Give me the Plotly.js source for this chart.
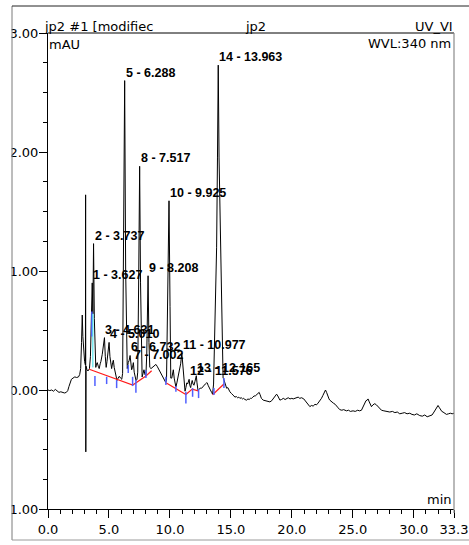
<!DOCTYPE html>
<html>
<head>
<meta charset="utf-8">
<script src="https://cdn.plot.ly/plotly-3.0.1.min.js"></script>
<style>
  html, body { margin: 0; padding: 0; background: #ffffff; }
  #chart { width: 469px; height: 545px; }
</style>
</head>
<body>
<div id="chart"></div>
<script>
// UV trace: retention time (min) and detector signal (mAU)
const timeMin = [
  0.00, 0.15, 0.30, 0.45, 0.60, 0.75, 0.90, 1.05, 1.20, 1.35, 1.50, 1.62, 1.72, 1.82, 1.92,
  2.05, 2.20, 2.35, 2.50, 2.60, 2.68, 2.75, 2.81, 2.86, 2.92, 3.00, 3.07, 3.085, 3.10, 3.12,
  3.20, 3.28, 3.34, 3.40, 3.48, 3.56, 3.627, 3.68, 3.737, 3.80, 3.86, 3.92, 3.98, 4.04, 4.12,
  4.20, 4.28, 4.34, 4.45, 4.55, 4.631, 4.70, 4.77, 4.84, 4.93, 5.010, 5.08, 5.15, 5.22, 5.30,
  5.36, 5.43, 5.50, 5.58, 5.66, 5.75, 5.85, 5.95, 6.05, 6.12, 6.20, 6.288, 6.37, 6.44, 6.50,
  6.58, 6.66, 6.732, 6.80, 6.86, 6.93, 7.002, 7.07, 7.14, 7.22, 7.30, 7.36, 7.44, 7.517, 7.59,
  7.65, 7.72, 7.80, 7.87, 7.95, 8.03, 8.10, 8.208, 8.28, 8.35, 8.45, 8.55, 8.65, 8.75, 8.85,
  8.95, 9.05, 9.15, 9.25, 9.35, 9.45, 9.55, 9.65, 9.72, 9.82, 9.925, 10.01, 10.07, 10.15, 10.22,
  10.28, 10.35, 10.42, 10.49, 10.57, 10.65, 10.72, 10.80, 10.88, 10.977, 11.05, 11.12, 11.18, 11.24, 11.31,
  11.38, 11.45, 11.52, 11.576, 11.63, 11.70, 11.77, 11.83, 11.90, 11.97, 12.05, 12.11, 12.165, 12.22, 12.30,
  12.38, 12.48, 12.60, 12.70, 12.80, 12.90, 13.00, 13.06, 13.13, 13.22, 13.32, 13.42, 13.50, 13.58, 13.68,
  13.76, 13.83, 13.90, 13.963, 14.03, 14.11, 14.18, 14.25, 14.31, 14.36, 14.40, 14.45, 14.50, 14.58, 14.65,
  14.75, 14.85, 14.92, 15.05, 15.15, 15.25, 15.33, 15.45, 15.55, 15.65, 15.74, 15.85, 15.95, 16.05, 16.15,
  16.29, 16.40, 16.50, 16.60, 16.70, 16.80, 16.90, 17.00, 17.11, 17.20, 17.32, 17.40, 17.50, 17.65, 17.80,
  17.95, 18.05, 18.20, 18.35, 18.50, 18.62, 18.75, 18.85, 18.95, 19.02, 19.15, 19.30, 19.45, 19.57, 19.70,
  19.85, 20.00, 20.11, 20.25, 20.40, 20.52, 20.65, 20.80, 20.98, 21.10, 21.25, 21.40, 21.48, 21.60, 21.75,
  21.90, 22.02, 22.15, 22.30, 22.43, 22.55, 22.65, 22.76, 22.85, 22.95, 23.05, 23.11, 23.25, 23.40, 23.55,
  23.66, 23.80, 23.93, 24.10, 24.25, 24.48, 24.65, 24.80, 25.02, 25.20, 25.40, 25.55, 25.71, 25.80, 25.90,
  25.98, 26.08, 26.18, 26.25, 26.35, 26.45, 26.53, 26.65, 26.80, 26.94, 27.10, 27.25, 27.35, 27.55, 27.75,
  28.03, 28.25, 28.45, 28.65, 28.85, 29.05, 29.25, 29.45, 29.67, 29.85, 30.05, 30.25, 30.49, 30.70, 30.90,
  31.10, 31.31, 31.50, 31.66, 31.80, 31.92, 31.99, 32.08, 32.20, 32.30, 32.40, 32.55, 32.68, 32.85, 33.00,
  33.15, 33.30
];
const signalMAU = [
  0.00, -0.005, 0.00, -0.01, 0.005, -0.01, -0.02, -0.015, -0.02, -0.025, -0.02, -0.005, 0.03, 0.07, 0.09,
  0.10, 0.11, 0.105, 0.11, 0.13, 0.18, 0.40, 0.63, 0.45, 0.30, 0.24, 0.21, 1.64, -0.52, 0.20,
  0.17, 0.16, 0.17, 0.18, 0.28, 0.55, 0.90, 0.64, 1.23, 0.60, 0.20, 0.19, 0.22, 0.23, 0.20,
  0.18, 0.22, 0.24, 0.30, 0.38, 0.44, 0.28, 0.19, 0.24, 0.32, 0.40, 0.28, 0.22, 0.18, 0.23,
  0.25, 0.19, 0.15, 0.11, 0.08, 0.10, 0.115, 0.10, 0.09, 0.14, 1.10, 2.60, 1.00, 0.25, 0.18,
  0.23, 0.25, 0.29, 0.20, 0.17, 0.19, 0.23, 0.15, 0.11, 0.08, 0.09, 0.15, 0.95, 1.88, 0.90,
  0.22, 0.11, 0.14, 0.17, 0.13, 0.12, 0.30, 0.96, 0.40, 0.19, 0.18, 0.19, 0.20, 0.21, 0.215,
  0.20, 0.18, 0.16, 0.14, 0.12, 0.10, 0.075, 0.065, 0.08, 0.75, 1.59, 0.70, 0.10, 0.10, 0.15,
  0.17, 0.10, 0.04, 0.025, 0.06, 0.10, 0.12, 0.17, 0.22, 0.31, 0.20, 0.10, 0.03, -0.01, 0.02,
  0.06, 0.05, 0.07, 0.09, 0.04, 0.02, 0.06, 0.08, 0.05, 0.04, 0.07, 0.10, 0.12, 0.06, 0.00,
  0.005, 0.015, 0.015, 0.03, 0.04, 0.05, 0.06, 0.06, 0.04, 0.015, 0.00, -0.02, -0.035, 0.05, 0.55,
  0.95, 1.20, 1.95, 2.73, 1.95, 1.45, 1.15, 0.55, 0.20, 0.10, 0.095, 0.08, 0.07, 0.03, 0.015,
  0.02, -0.005, -0.015, -0.03, -0.045, -0.05, -0.06, -0.055, -0.065, -0.06, -0.07, -0.065, -0.075, -0.07, -0.08,
  -0.085, -0.075, -0.08, -0.07, -0.07, -0.06, -0.05, -0.05, -0.04, -0.03, -0.02, -0.04, -0.07, -0.085, -0.09,
  -0.095, -0.10, -0.10, -0.09, -0.07, -0.05, -0.035, -0.05, -0.075, -0.085, -0.08, -0.07, -0.08, -0.075, -0.065,
  -0.075, -0.07, -0.075, -0.07, -0.065, -0.06, -0.07, -0.065, -0.075, -0.09, -0.115, -0.135, -0.14, -0.13, -0.135,
  -0.12, -0.125, -0.11, -0.09, -0.07, -0.045, -0.02, 0.00, -0.02, -0.055, -0.075, -0.085, -0.10, -0.11, -0.12,
  -0.13, -0.15, -0.165, -0.17, -0.165, -0.175, -0.17, -0.18, -0.175, -0.18, -0.17, -0.175, -0.17, -0.15, -0.12,
  -0.105, -0.09, -0.085, -0.075, -0.10, -0.13, -0.14, -0.125, -0.115, -0.125, -0.145, -0.16, -0.17, -0.175, -0.18,
  -0.185, -0.18, -0.19, -0.185, -0.20, -0.195, -0.19, -0.20, -0.195, -0.205, -0.21, -0.20, -0.215, -0.22, -0.21,
  -0.225, -0.22, -0.21, -0.185, -0.16, -0.135, -0.13, -0.145, -0.17, -0.18, -0.185, -0.20, -0.205, -0.20, -0.195,
  -0.20, -0.195
];

// Integrated peaks: number, retention time (min), apex height (mAU)
const peakNumbers = [1, 2, 3, 4, 5, 6, 7, 8, 9, 10, 11, 12, 13, 14];
const peakTimes   = [3.627, 3.737, 4.631, 5.010, 6.288, 6.732, 7.002, 7.517, 8.208, 9.925, 10.977, 11.576, 12.165, 13.963];
const peakHeights = [0.90, 1.23, 0.44, 0.40, 2.60, 0.29, 0.23, 1.88, 0.96, 1.59, 0.31, 0.09, 0.12, 2.73];

// Integration baseline, one segment per peak group (null breaks the line)
const baselineTime = [3.38, 6.95, 8.03, 8.50, null, 9.67, 11.31, 11.83, 12.32, null, 13.50, 14.43];
const baselineMAU  = [0.174, 0.042, 0.118, 0.162, null, 0.061, -0.037, 0.008, -0.007, null, -0.04, 0.05];

// Peak delimiter marks: time, upper and lower end (mAU)
const delimiterTime   = [3.60, 3.85, 4.81, 5.63, 6.58, 6.94, 7.21, 8.03, 9.67, 10.49, 11.31, 11.86, 12.35, 13.61, 14.43];
const delimiterTop    = [0.66, 0.118, 0.111, 0.083, 0.21, 0.111, 0.083, 0.167, 0.111, 0.033, -0.015, 0.016, 0.008, 0.016, 0.10];
const delimiterBottom = [0.45, 0.033, 0.05, 0.016, 0.142, 0.033, -0.024, 0.10, 0.041, -0.015, -0.113, -0.057, -0.068, -0.042, 0.016];

// Drop line splitting peaks 1 and 2
const splitTime = [3.68];
const splitTop = [0.64];
const splitBottom = [0.19];

// Axis ticks
const xTickValues = [0, 5, 10, 15, 20, 25, 30, 33.3];
const xTickLabels = ['0.0', '5.0', '10.0', '15.0', '20.0', '25.0', '30.0', '33.3'];
const yTickValues = [-1, 0, 1, 2, 3];
const yTickLabels = ['-1.00', '0.00', '1.00', '2.00', '3.00'];

// Header texts
const sampleText = 'jp2 #1 [modifiec';
const sequenceText = 'jp2';
const channelText = 'UV_VI';
const unitText = 'mAU';
const wavelengthText = 'WVL:340 nm';
const timeUnitText = 'min';

// ---- page geometry (pixels) ----
const W = 469, H = 545;
const M = { l: 48, r: 15, t: 33, b: 36 };
const plotW = W - M.l - M.r, plotH = H - M.t - M.b;
const px = x => (x - M.l) / plotW;          // page x -> paper x
const py = y => (H - M.b - y) / plotH;      // page y -> paper y

const regular = { family: 'DejaVu Sans, Arial, sans-serif', size: 13, color: '#000' };
const bold = { family: 'Liberation Sans, Arial, sans-serif', size: 12.5, color: '#000', weight: 'bold' };

function segments(times, tops, bottoms) {
  const xs = [], ys = [];
  times.forEach((t, i) => { xs.push(t, t, null); ys.push(tops[i], bottoms[i], null); });
  return { xs, ys };
}
const marks = segments(delimiterTime, delimiterTop, delimiterBottom);
const split = segments(splitTime, splitTop, splitBottom);

const traces = [
  { x: timeMin, y: signalMAU, type: 'scatter', mode: 'lines',
    line: { color: '#000000', width: 1 }, hoverinfo: 'skip' },
  { x: baselineTime, y: baselineMAU, type: 'scatter', mode: 'lines',
    line: { color: '#ff1a1a', width: 1.2 }, hoverinfo: 'skip' },
  { x: marks.xs, y: marks.ys, type: 'scatter', mode: 'lines',
    line: { color: '#5060ff', width: 1.5 }, hoverinfo: 'skip' },
  { x: split.xs, y: split.ys, type: 'scatter', mode: 'lines',
    line: { color: '#33e0e8', width: 1 }, hoverinfo: 'skip' }
];

const peakLabels = peakNumbers.map((n, i) => ({
  x: peakTimes[i], y: peakHeights[i], xref: 'x', yref: 'y',
  text: n + ' - ' + peakTimes[i].toFixed(3), showarrow: false,
  xanchor: 'left', yanchor: 'middle', xshift: -1, yshift: 8, font: bold
}));

const headerLabels = [
  { text: sampleText, x: px(42.3), y: py(26.5), xanchor: 'left' },
  { text: sequenceText, x: px(243.3), y: py(26.5), xanchor: 'left' },
  { text: channelText, x: px(455), y: py(26), xanchor: 'right' },
  { text: unitText, x: px(47.3), y: py(44.5), xanchor: 'left' },
  { text: wavelengthText, x: px(453.3), y: py(43.5), xanchor: 'right' },
  { text: timeUnitText, x: px(454.3), y: py(499), xanchor: 'right' }
].map(a => Object.assign({ xref: 'paper', yref: 'paper', yanchor: 'middle', showarrow: false, font: regular }, a));

const shapes = [
  // mask left of the outer frame
  { type: 'rect', xref: 'paper', yref: 'paper', layer: 'above',
    x0: px(-2), x1: px(11.6), y0: py(H + 2), y1: py(-2),
    fillcolor: '#ffffff', line: { width: 0 } },
  // outer frame
  { type: 'line', xref: 'paper', yref: 'paper', layer: 'above',
    x0: px(12), x1: px(12), y0: py(6), y1: py(540), line: { color: '#7a7a7a', width: 1 } },
  { type: 'line', xref: 'paper', yref: 'paper', layer: 'above',
    x0: px(12), x1: px(471), y0: py(6), y1: py(6), line: { color: '#222222', width: 1 } },
  { type: 'line', xref: 'paper', yref: 'paper', layer: 'above',
    x0: px(12), x1: px(471), y0: py(540), y1: py(540), line: { color: '#9a9a9a', width: 1 } },
  // plot frame, top and right
  { type: 'line', xref: 'paper', yref: 'paper', layer: 'above',
    x0: 0, x1: 1, y0: 1, y1: 1, line: { color: '#000000', width: 1 } },
  { type: 'line', xref: 'paper', yref: 'paper', layer: 'above',
    x0: 1, x1: 1, y0: 1, y1: py(513), line: { color: '#8a8a8a', width: 1.2 } }
];

const layout = {
  width: W, height: H,
  margin: M,
  paper_bgcolor: '#ffffff', plot_bgcolor: '#ffffff',
  showlegend: false,
  xaxis: {
    range: [0, 33.3], showgrid: false, zeroline: false,
    showline: true, linecolor: '#000', linewidth: 1,
    tickmode: 'array', tickvals: xTickValues, ticktext: xTickLabels,
    ticks: 'outside', ticklen: 8, tickcolor: '#000', tickwidth: 1,
    tickfont: regular,
    minor: { tickmode: 'linear', tick0: 0, dtick: 1, ticks: 'outside', ticklen: 4, tickcolor: '#000', tickwidth: 1 }
  },
  yaxis: {
    range: [-1, 3], showgrid: false, zeroline: false,
    showline: true, linecolor: '#000', linewidth: 1,
    tickmode: 'array', tickvals: yTickValues, ticktext: yTickLabels,
    ticks: 'outside', ticklen: 8, tickcolor: '#000', tickwidth: 1,
    ticklabelstandoff: -2,
    tickfont: regular,
    minor: { tickmode: 'linear', tick0: 0, dtick: 0.25, ticks: 'outside', ticklen: 4, tickcolor: '#000', tickwidth: 1 }
  },
  annotations: headerLabels.concat(peakLabels),
  shapes: shapes
};

Plotly.newPlot('chart', traces, layout, { staticPlot: true, displayModeBar: false });
</script>
</body>
</html>
